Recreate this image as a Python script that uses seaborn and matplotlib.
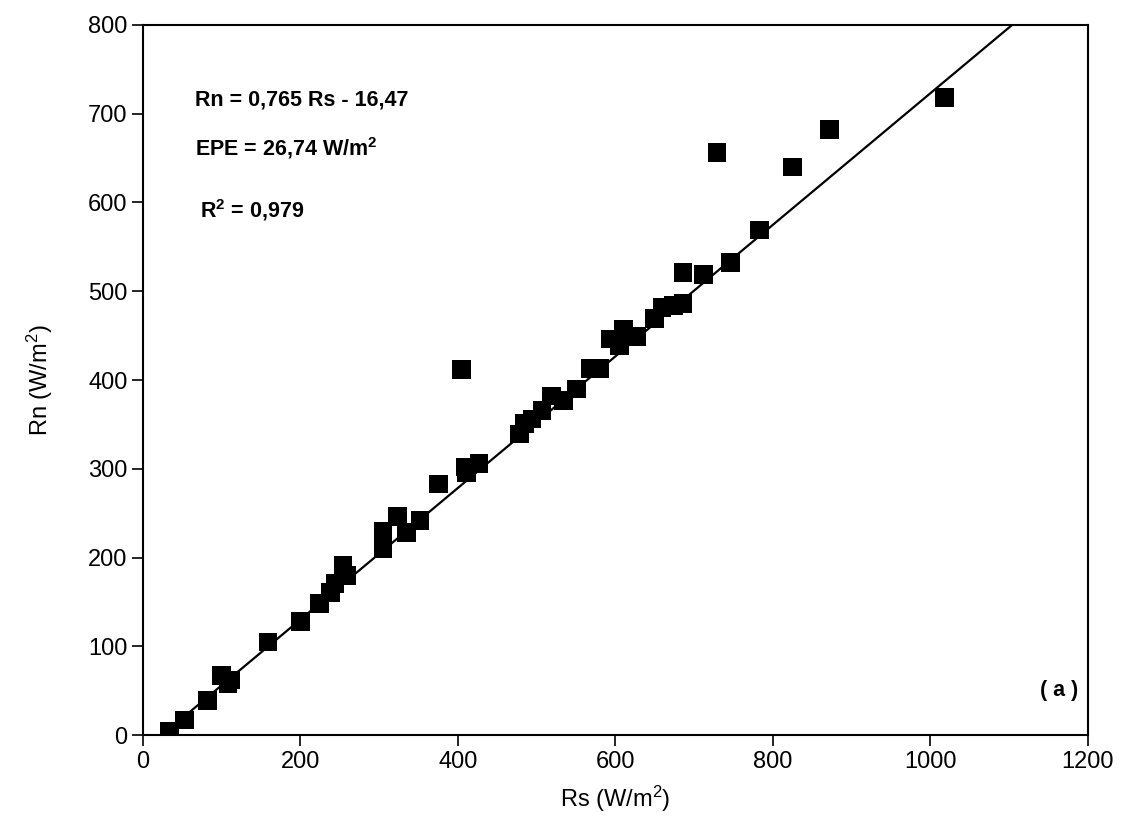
import numpy as np
import pandas as pd
import matplotlib
matplotlib.use('Agg')
import matplotlib.pyplot as plt
import seaborn as sns

rs = [34, 53, 82, 100, 111, 108, 159, 200, 224, 238, 244, 254, 259,
      305, 305, 323, 335, 352, 375, 405, 409, 411, 427, 478, 485, 494,
      507, 519, 534, 551, 568, 580, 593, 610, 605, 627, 650, 659, 674,
      686, 686, 712, 746, 783, 729, 825, 872, 1018]
rn = [4, 17, 39, 67, 62, 58, 105, 128, 148, 161, 171, 191, 180,
      210, 230, 246, 228, 242, 283, 412, 302, 296, 306, 339, 351, 356,
      366, 382, 377, 390, 413, 413, 446, 457, 439, 449, 469, 482, 484,
      486, 521, 519, 532, 569, 656, 640, 682, 718]

# regression line as drawn in the figure (endpoints)
line_rs = [35, 1104]
line_rn = [8, 800]

eq_txt = 'Rn = 0,765 Rs - 16,47'
epe_txt = 'EPE = 26,74 W/m$^2$'
r2_txt = 'R$^2$ = 0,979'

df = pd.DataFrame({'Rs': rs, 'Rn': rn})
df_line = pd.DataFrame({'Rs': line_rs, 'Rn': line_rn})

sns.set_style('ticks')
plt.rcParams['font.family'] = ['Liberation Sans', 'DejaVu Sans']
plt.rcParams['mathtext.fontset'] = 'custom'
plt.rcParams['mathtext.rm'] = 'Liberation Sans'
plt.rcParams['mathtext.bf'] = 'Liberation Sans:bold'
plt.rcParams['mathtext.default'] = 'regular'
plt.rcParams['text.color'] = 'black'
plt.rcParams['axes.labelcolor'] = 'black'

fig = plt.figure(figsize=(11.25, 8.27), dpi=100)
ax = fig.add_axes([0.127, 0.111, 0.840, 0.859])

sns.lineplot(data=df_line, x='Rs', y='Rn', color='black', lw=1.6, ax=ax)
sns.scatterplot(data=df, x='Rs', y='Rn', marker='s', s=180, color='black',
                edgecolor='none', ax=ax, zorder=3)

ax.set_xlim(0, 1200)
ax.set_ylim(0, 800)
ax.set_xticks(np.arange(0, 1201, 200))
ax.set_yticks(np.arange(0, 801, 100))
ax.tick_params(axis='both', labelsize=17, length=8, width=1.2, direction='out',
               color='black', labelcolor='black')
ax.tick_params(axis='y', pad=3)
for sp in ax.spines.values():
    sp.set_linewidth(1.5)
    sp.set_color('black')

ax.set_xlabel('Rs (W/m$^2$)', fontsize=17, labelpad=8)
ax.set_ylabel('Rn (W/m$^2$)', fontsize=17, labelpad=24)

bold = dict(fontsize=15.5, fontweight='bold', color='black')
ax.text(0.055, 0.894, eq_txt, transform=ax.transAxes, va='center', **bold)
ax.text(0.055, 0.827, epe_txt, transform=ax.transAxes, va='center', **bold)
ax.text(0.060, 0.739, r2_txt, transform=ax.transAxes, va='center', **bold)
ax.text(0.99, 0.063, '( a )', transform=ax.transAxes, va='center',
        ha='right', **bold)

fig.savefig('out.png', dpi=100)
